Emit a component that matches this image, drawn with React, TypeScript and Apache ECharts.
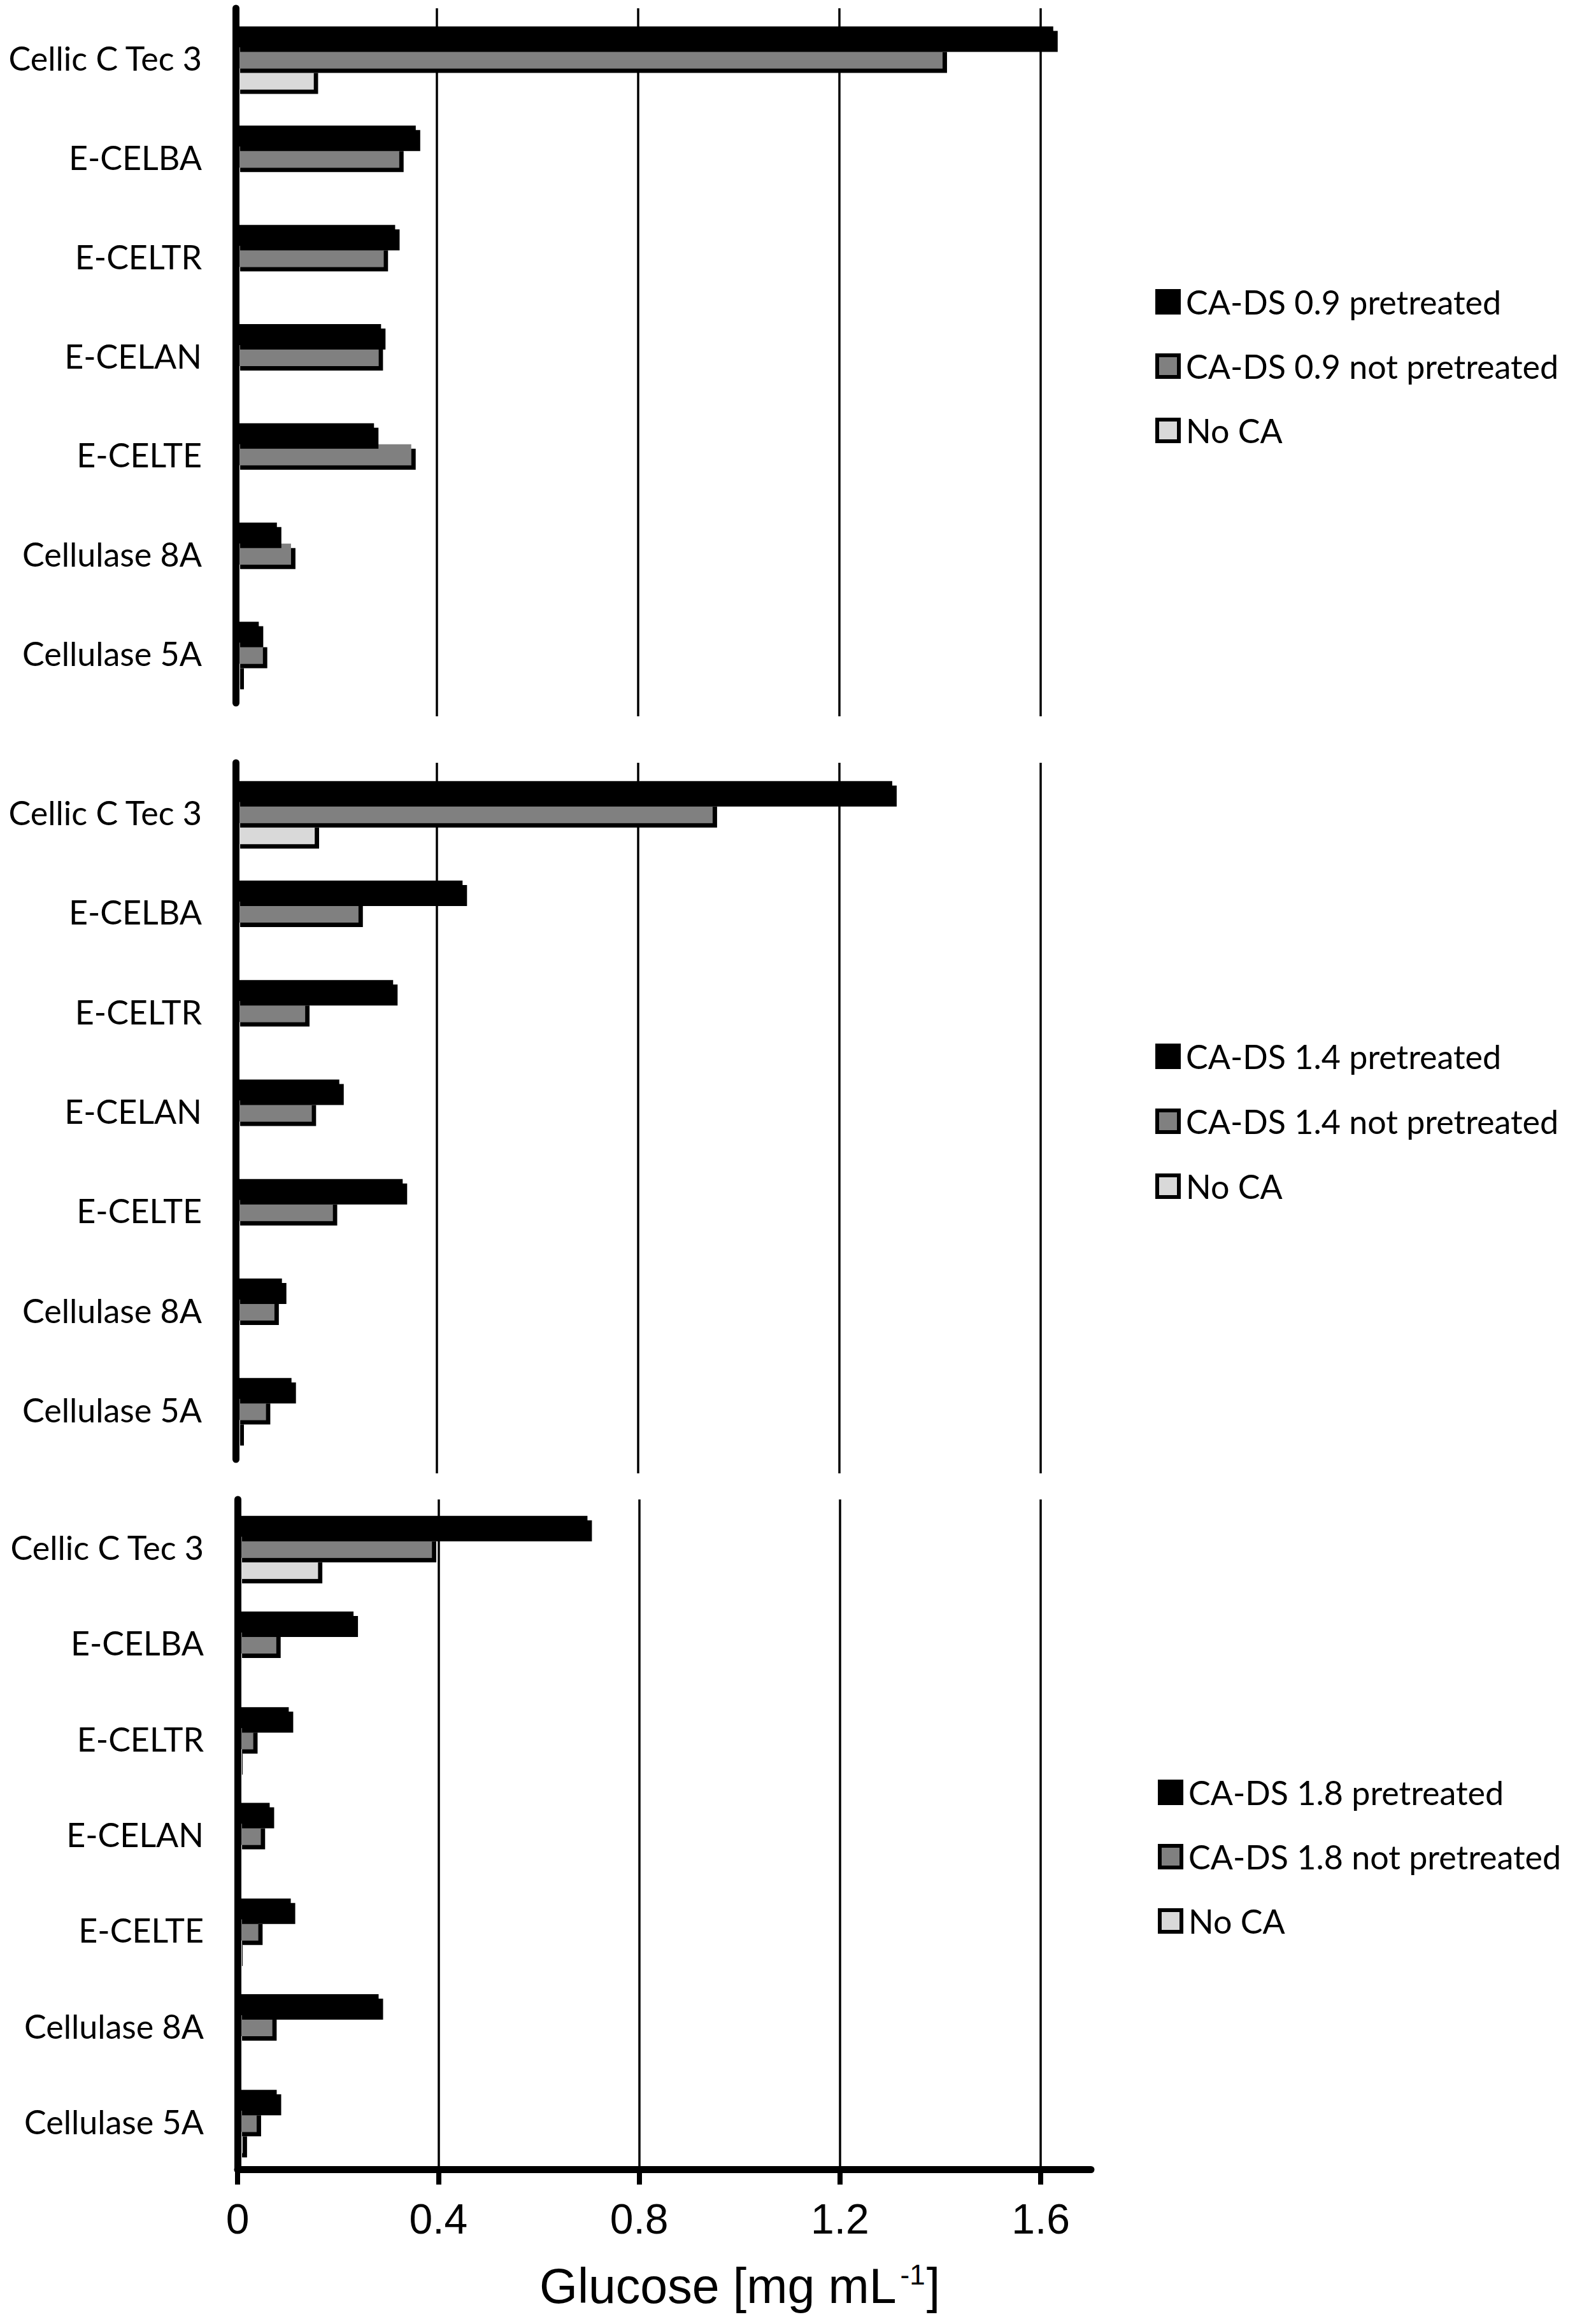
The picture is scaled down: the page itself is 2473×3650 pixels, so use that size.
import React, { useEffect, useRef } from 'react';
import * as echarts from 'echarts';

const categories = ['Cellic C Tec 3', 'E-CELBA', 'E-CELTR', 'E-CELAN', 'E-CELTE', 'Cellulase 8A', 'Cellulase 5A'];

const p1Pretreated = [1.625, 0.358, 0.317, 0.289, 0.275, 0.082, 0.046];
const p1NotPretreated = [1.405, 0.325, 0.294, 0.284, 0.349, 0.11, 0.054];
const p1NoCA = [0.155, 0, 0.003, 0.002, 0.003, 0, 0.008];

const p2Pretreated = [1.305, 0.451, 0.313, 0.206, 0.332, 0.092, 0.111];
const p2NotPretreated = [0.948, 0.244, 0.138, 0.151, 0.193, 0.077, 0.06];
const p2NoCA = [0.157, 0, 0.003, 0.002, 0.003, 0, 0.008];

const p3Pretreated = [0.697, 0.231, 0.102, 0.064, 0.106, 0.281, 0.078];
const p3NotPretreated = [0.387, 0.077, 0.031, 0.046, 0.041, 0.069, 0.038];
const p3NoCA = [0.16, 0, 0.005, 0.003, 0.005, 0, 0.01];

const dsLevels = ['0.9', '1.4', '1.8'];
const xTicks = [0, 0.4, 0.8, 1.2, 1.6];
const xMax = 1.7;
const xInterval = 0.4;

const panelData = [
  [p1Pretreated, p1NotPretreated, p1NoCA],
  [p2Pretreated, p2NotPretreated, p2NoCA],
  [p3Pretreated, p3NotPretreated, p3NoCA],
];

const FILLS = ['#000000', '#808080', '#d9d9d9'];

const geom = [
  { top: 13, height: 1091, left: 370, width: 1343, ext: 21 },
  { top: 1198, height: 1094, left: 370, width: 1343, ext: 22 },
  { top: 2355, height: 1052, left: 373, width: 1340, ext: 0 },
];
const legendTops = [448, 1633, 2789];
const legendGaps = [49, 50, 49];

function seriesName(p: number, k: number) {
  if (k === 0) return `CA-DS ${dsLevels[p]} pretreated`;
  if (k === 1) return `CA-DS ${dsLevels[p]} not pretreated`;
  return 'No CA';
}

function buildOption() {
  const grid: any[] = [];
  const xAxis: any[] = [];
  const yAxis: any[] = [];
  const series: any[] = [];
  const legend: any[] = [];

  geom.forEach((g, p) => {
    grid.push({ left: g.left, top: g.top, width: g.width, height: g.height, containLabel: false });
    const isLast = p === geom.length - 1;
    xAxis.push({
      type: 'value',
      gridIndex: p,
      min: 0,
      max: xMax,
      interval: xInterval,
      axisLine: { show: isLast, onZero: false, lineStyle: { color: '#000', width: 11 } },
      axisTick: {
        show: isLast,
        length: 24,
        customValues: xTicks,
        lineStyle: { color: '#000', width: 8 },
      },
      axisLabel: {
        show: isLast,
        customValues: xTicks,
        margin: 45,
        fontSize: 66,
        fontFamily: 'Liberation Sans',
        color: '#000',
        formatter: (v: number) => String(v),
      },
      splitLine: {
        show: true,
        showMinLine: false,
        showMaxLine: true,
        lineStyle: { color: '#000', width: 3.5 },
      },
    });
    yAxis.push({
      type: 'category',
      gridIndex: p,
      inverse: true,
      data: categories,
      z: 6,
      axisLine: { show: true, lineStyle: { color: '#000', width: 11 } },
      axisTick: { show: false },
      axisLabel: { margin: 53, fontSize: 52, fontFamily: 'Lato', color: '#000' },
    });
    panelData[p].forEach((vals, k) => {
      series.push({
        type: 'bar',
        name: seriesName(p, k),
        xAxisIndex: p,
        yAxisIndex: p,
        data: vals,
        barWidth: 33,
        barGap: '0%',
        z: 4 - k,
        itemStyle: {
          color: FILLS[k],
          shadowColor: '#000',
          shadowOffsetX: 7,
          shadowOffsetY: 7,
          shadowBlur: 0,
        },
        emphasis: { disabled: true },
      });
    });
    legend.push({
      orient: 'vertical',
      left: p === 2 ? 1818 : 1814,
      top: legendTops[p],
      itemGap: legendGaps[p],
      itemWidth: 34,
      itemHeight: 34,
      icon: 'rect',
      selectedMode: false,
      padding: 0,
      data: [seriesName(p, 0), seriesName(p, 1), seriesName(p, 2)],
      itemStyle: {
        borderColor: '#000',
        borderWidth: 6,
        shadowBlur: 0,
        shadowOffsetX: 0,
        shadowOffsetY: 0,
        shadowColor: 'rgba(0,0,0,0)',
      },
      textStyle: { fontSize: 52, lineHeight: 52, fontFamily: 'Lato', color: '#000', padding: [0, 0, 0, 6] },
    });
  });

  // gridline extensions below panels 1 and 2
  geom.forEach((g) => {
    if (!g.ext) return;
    const gi = grid.length;
    grid.push({ left: g.left, top: g.top + g.height, width: g.width, height: g.ext });
    xAxis.push({
      type: 'value',
      gridIndex: gi,
      min: 0,
      max: xMax,
      interval: xInterval,
      axisLine: { show: false },
      axisTick: { show: false },
      axisLabel: { show: false },
      splitLine: { show: true, showMinLine: false, showMaxLine: false, lineStyle: { color: '#000', width: 3.5 } },
    });
    yAxis.push({ type: 'value', gridIndex: gi, min: 0, max: 1, show: false });
  });

  return {
    animation: false,
    backgroundColor: '#fff',
    grid,
    xAxis,
    yAxis,
    series,
    legend,
    title: {
      left: 847,
      top: 3550,
      padding: 0,
      text: '{a|Glucose [mg mL}{b|-1}{a|]}',
      textStyle: {
        fontWeight: 'normal',
        rich: {
          a: { fontSize: 77, lineHeight: 80, fontWeight: 'normal', fontFamily: 'Liberation Sans', color: '#000' },
          b: { fontSize: 44, lineHeight: 44, fontWeight: 'normal', verticalAlign: 'top', fontFamily: 'Liberation Sans', color: '#000', padding: [0, 2, 0, 6] },
        },
      },
    },
  };
}

export default function App() {
  const ref = useRef<HTMLDivElement>(null);
  useEffect(() => {
    document.body.style.margin = '0';
    const chart = echarts.init(ref.current as HTMLDivElement, null, { renderer: 'svg', width: 2473, height: 3650 });
    chart.setOption(buildOption() as any);
    return () => chart.dispose();
  }, []);
  return <div ref={ref} style={{ width: 2473, height: 3650, position: 'absolute', left: 0, top: 0 }} />;
}
